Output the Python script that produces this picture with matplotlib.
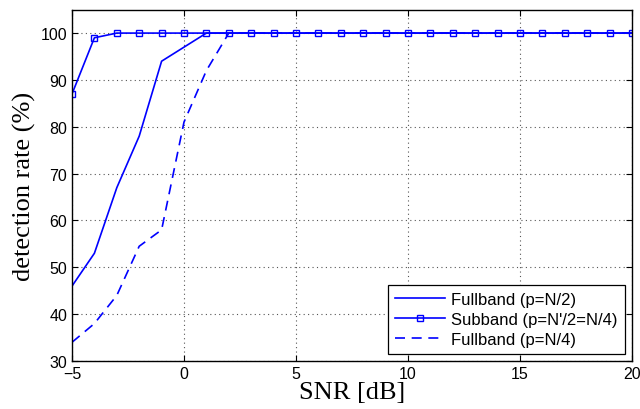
import matplotlib
matplotlib.use('Agg')
import matplotlib.pyplot as plt
import numpy as np

# data
snr = list(range(-5, 21))
full_half = [46, 53, 67, 78, 94, 97] + [100] * 20
sub_band = [87, 99] + [100] * 24
full_quarter = [34, 38, 44, 54.5, 58, 81, 92] + [100] * 19

plt.rcParams['font.family'] = ['Liberation Sans', 'DejaVu Sans']

fig = plt.figure(figsize=(6.4, 4.1), dpi=100)
ax = fig.add_axes([0.1125, 0.117, 0.875, 0.857])

ax.plot(snr, full_half, color='blue', linewidth=1.2, label='Fullband (p=N/2)')
ax.plot(snr, sub_band, color='blue', linewidth=1.2, marker='s', markersize=4.5,
        markerfacecolor='none', markeredgecolor='blue', markeredgewidth=1.0,
        label="Subband (p=N'/2=N/4)")
ax.plot(snr, full_quarter, color='blue', linewidth=1.2, linestyle=(0, (6, 4)),
        label='Fullband (p=N/4)')

ax.set_xlim(-5, 20)
ax.set_ylim(30, 105)
ax.set_xticks([-5, 0, 5, 10, 15, 20])
ax.set_xticklabels(['\u22125', '0', '5', '10', '15', '20'])
ax.set_yticks(range(30, 101, 10))
ax.tick_params(direction='in', labelsize=11.5, length=4, top=True, right=True)
ax.grid(True, linestyle=(0, (1, 3)), color='#555555', linewidth=0.8)

ax.set_xlabel('SNR [dB]', fontsize=19, family='Liberation Serif', labelpad=0)
ax.set_ylabel('detection rate (%)', fontsize=19, family='Liberation Serif', labelpad=3)

leg = ax.legend(loc='lower right', fontsize=12, fancybox=False, framealpha=1,
                edgecolor='black', borderaxespad=0.45, handlelength=3.0,
                labelspacing=0.3, borderpad=0.4, handletextpad=0.4)
leg.get_frame().set_linewidth(0.9)

for s in ax.spines.values():
    s.set_linewidth(1.0)

fig.savefig('out.png', dpi=100)
